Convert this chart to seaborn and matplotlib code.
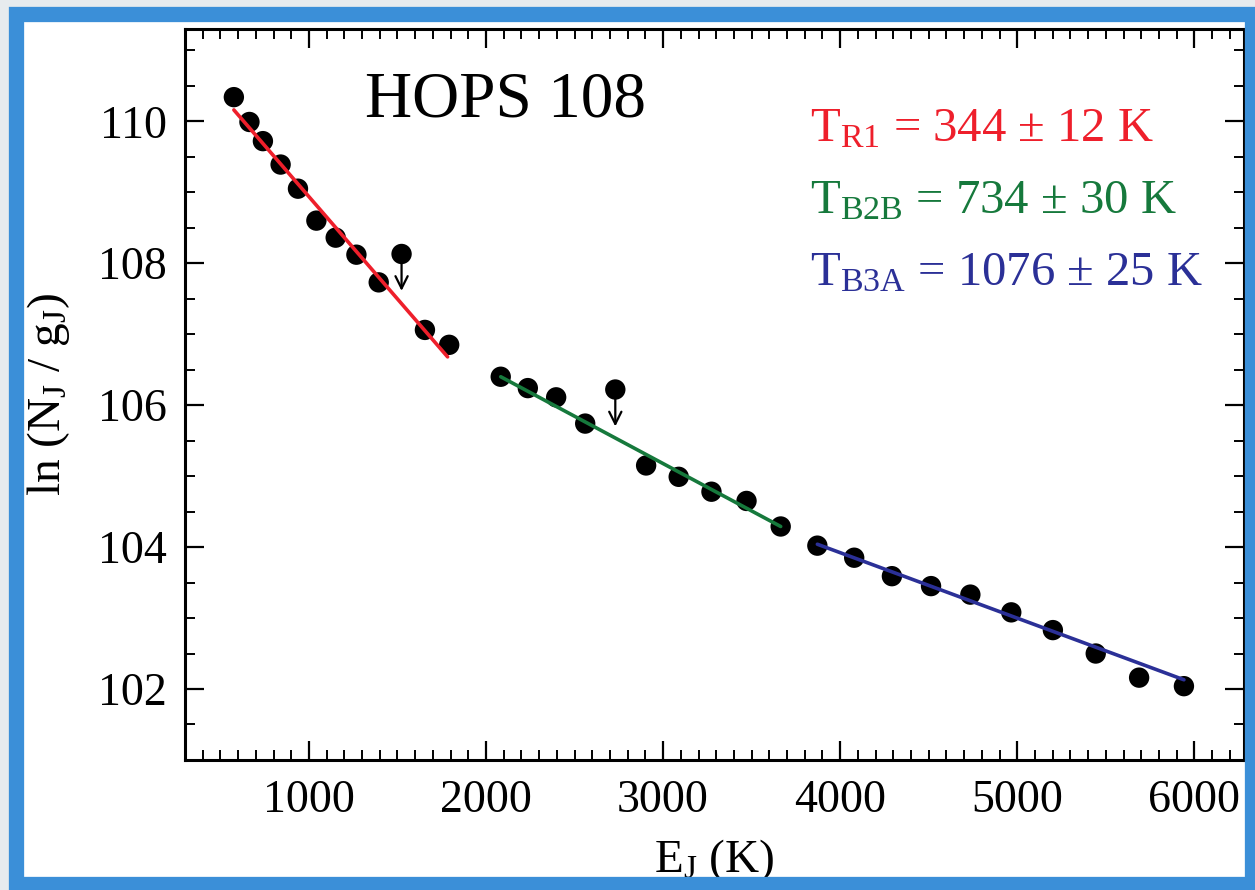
import numpy as np
import pandas as pd
import matplotlib
matplotlib.use("Agg")
import matplotlib.pyplot as plt
from matplotlib.patches import Rectangle
from matplotlib.ticker import MultipleLocator
import seaborn as sns

# ---------------- data ----------------
red_x = [576, 664, 740, 840, 938, 1042, 1151, 1268, 1394, 1655, 1792]
red_y = [110.34, 109.99, 109.72, 109.39, 109.05, 108.60, 108.36, 108.12, 107.73, 107.06, 106.85]

green_x = [2083, 2236, 2396, 2560, 2904, 3088, 3273, 3471, 3664]
green_y = [106.40, 106.24, 106.11, 105.74, 105.15, 104.99, 104.78, 104.65, 104.29]

blue_x = [3871, 4079, 4292, 4513, 4735, 4966, 5201, 5443, 5688, 5941]
blue_y = [104.02, 103.85, 103.59, 103.45, 103.33, 103.08, 102.83, 102.50, 102.16, 102.04]

# upper limits (dot with downward arrow)
ul_x = [1523, 2730]
ul_y = [108.13, 106.22]

# fitted lines (end points)
fit_red_x = [576, 1783]
fit_red_y = [110.16, 106.68]
fit_green_x = [2083, 3664]
fit_green_y = [106.40, 104.29]
fit_blue_x = [3871, 5941]
fit_blue_y = [104.04, 102.13]

x_ticks = [1000, 2000, 3000, 4000, 5000, 6000]
y_ticks = [102, 104, 106, 108, 110]

title_text = "HOPS 108"
temp_labels = [r"$\mathrm{T_{R1}}$ = 344 ± 12 K",
               r"$\mathrm{T_{B2B}}$ = 734 ± 30 K",
               r"$\mathrm{T_{B3A}}$ = 1076 ± 25 K"]

RED = "#ee1f2b"
GREEN = "#16793c"
BLUE = "#2b3097"

# ---------------- style ----------------
sns.set_style("ticks")
plt.rcParams["font.family"] = ["Liberation Serif", "DejaVu Serif"]
plt.rcParams["mathtext.fontset"] = "custom"
plt.rcParams["mathtext.rm"] = "Liberation Serif"
plt.rcParams["mathtext.it"] = "Liberation Serif:italic"
plt.rcParams["mathtext.bf"] = "Liberation Serif:bold"
plt.rcParams["text.color"] = "black"
plt.rcParams["axes.labelcolor"] = "black"
plt.rcParams["xtick.color"] = "black"
plt.rcParams["ytick.color"] = "black"

fig = plt.figure(figsize=(12.55, 8.9), dpi=100)
fig.patch.set_facecolor("#e7ebee")
fig.patches.append(Rectangle((0.0127, 0.0067), 0.985, 0.9776, transform=fig.transFigure,
                             facecolor="white", edgecolor="none", zorder=-5))
ax = fig.add_axes([0.1474, 0.1461, 0.8438, 0.8213])
ax.set_facecolor("white")

pts = pd.DataFrame({"E": red_x + green_x + blue_x + ul_x,
                    "lnN": red_y + green_y + blue_y + ul_y})
sns.scatterplot(data=pts, x="E", y="lnN", ax=ax, color="black", s=215,
                edgecolor="none", zorder=3, legend=False)

for fx, fy, c in [(fit_red_x, fit_red_y, RED), (fit_green_x, fit_green_y, GREEN),
                  (fit_blue_x, fit_blue_y, BLUE)]:
    sns.lineplot(x=fx, y=fy, ax=ax, color=c, linewidth=2.6, zorder=4, legend=False)

for ux, uy in zip(ul_x, ul_y):
    ax.annotate("", xy=(ux, uy - 0.52), xytext=(ux, uy),
                arrowprops=dict(arrowstyle="->", color="black", lw=1.6,
                                mutation_scale=22, shrinkA=0, shrinkB=0),
                zorder=3)

ax.set_xlim(300, 6280)
ax.set_ylim(101.0, 111.3)
ax.set_xticks(x_ticks)
ax.set_yticks(y_ticks)
ax.xaxis.set_minor_locator(MultipleLocator(100))
ax.yaxis.set_minor_locator(MultipleLocator(0.5))

ax.tick_params(which="both", direction="in", top=True, right=True, colors="black")
ax.tick_params(which="major", length=14, width=1.6, labelsize=33)
ax.tick_params(axis="x", which="major", pad=14)
ax.tick_params(axis="y", which="major", pad=13)
ax.tick_params(which="minor", length=7, width=1.4)
for sp in ax.spines.values():
    sp.set_linewidth(2.2)
    sp.set_color("black")

ax.set_xlabel(r"$\mathrm{E_J}$ (K)", fontsize=34, color="black")
ax.set_ylabel(r"ln (N$_\mathrm{J}$ / g$_\mathrm{J}$)", fontsize=34, color="black")
ax.xaxis.set_label_coords(0.5, -0.105)
ax.yaxis.set_label_coords(-0.107, 0.5)

ax.text(0.170, 0.880, title_text, transform=ax.transAxes, fontsize=47,
        ha="left", va="baseline", color="black")

for lab, yb, c in zip(temp_labels, [0.8458, 0.7479, 0.6498], [RED, GREEN, BLUE]):
    ax.text(0.590, yb, lab, transform=ax.transAxes, fontsize=35, ha="left",
            va="baseline", color=c)

# sketchy blue border
fig.patches.append(Rectangle((0.0127, 0.0067), 0.985, 0.9776, transform=fig.transFigure,
                             facecolor="none", edgecolor="#3b8fd8", linewidth=11, zorder=10))

fig.savefig("out.png", dpi=100, facecolor=fig.get_facecolor())
